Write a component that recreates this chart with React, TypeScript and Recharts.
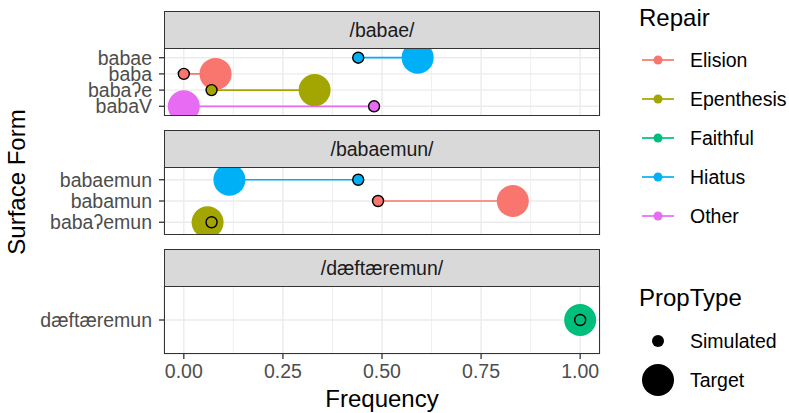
import { ScatterChart, Scatter, XAxis, YAxis, CartesianGrid, ReferenceLine } from 'recharts';

// facets (underlying forms)
const facetTitles = ['/babae/', '/babaemun/', '/dæftæremun/'];

// surface forms per facet, top to bottom
const forms1 = ['babae', 'baba', 'babaʔe', 'babaV'];
const forms2 = ['babaemun', 'babamun', 'babaʔemun'];
const forms3 = ['dæftæremun'];

const repair1 = ['Hiatus', 'Elision', 'Epenthesis', 'Other'];
const repair2 = ['Hiatus', 'Elision', 'Epenthesis'];
const repair3 = ['Faithful'];

const target1 = [0.59, 0.08, 0.33, 0.0];
const simulated1 = [0.44, 0.0, 0.07, 0.48];
const target2 = [0.115, 0.83, 0.06];
const simulated2 = [0.44, 0.49, 0.07];
const target3 = [1.0];
const simulated3 = [1.0];

const repairNames = ['Elision', 'Epenthesis', 'Faithful', 'Hiatus', 'Other'];
const repairColors = ['#F8766D', '#A3A500', '#00BF7D', '#00B0F6', '#E76BF3'];
const propTypes = ['Simulated', 'Target'];

const majorTicks = [0, 0.25, 0.5, 0.75, 1];
const minorTicks = [0.125, 0.375, 0.625, 0.875];

const FONT = '"Liberation Sans", Arial, sans-serif';
const TICK_FS = 19.5;
const TITLE_FS = 24;
const colorOf = (r: string) => repairColors[repairNames.indexOf(r)];

const facets = [
  { title: facetTitles[0], forms: forms1, repair: repair1, target: target1, sim: simulated1, top: 11 },
  { title: facetTitles[1], forms: forms2, repair: repair2, target: target2, sim: simulated2, top: 130 },
  { title: facetTitles[2], forms: forms3, repair: repair3, target: target3, sim: simulated3, top: 249 },
];

const STRIP_H = 37;
const PLOT_H = 68;
const PLOT_L = 164;
const PLOT_W = 436;

const TargetDot = (props: any) => {
  const { cx, cy, payload } = props;
  return <circle cx={cx} cy={cy} r={16} fill={payload.color} />;
};

const SimDot = (props: any) => {
  const { cx, cy, payload } = props;
  return <circle cx={cx} cy={cy} r={5.5} fill={payload.color} stroke="#000" strokeWidth={1.4} />;
};

const NoDot = () => <g />;

function Facet({ f, last }: { f: any; last: boolean }) {
  const n = f.forms.length;
  const rows = f.forms.map((form: string, i: number) => ({
    y: i,
    form,
    color: colorOf(f.repair[i]),
    target: f.target[i],
    sim: f.sim[i],
  }));
  const targets = rows.map((r: any) => ({ x: r.target, y: r.y, color: r.color }));
  const sims = rows.map((r: any) => ({ x: r.sim, y: r.y, color: r.color }));
  const ticks = rows.map((r: any) => r.y);
  const plotTop = f.top + STRIP_H;

  return (
    <>
      <div
        style={{
          position: 'absolute',
          left: PLOT_L,
          top: f.top,
          width: PLOT_W,
          height: STRIP_H,
          boxSizing: 'border-box',
          background: '#D9D9D9',
          border: '1.3px solid #333333',
          borderBottom: 'none',
          display: 'flex',
          alignItems: 'center',
          justifyContent: 'center',
          fontSize: TICK_FS,
          color: '#1A1A1A',
        }}
      >
        {f.title}
      </div>
      <div style={{ position: 'absolute', left: 0, top: plotTop }}>
        <ScatterChart
          width={PLOT_L + PLOT_W + 12}
          height={PLOT_H + (last ? 36 : 0)}
          margin={{ top: 0, right: 12, bottom: 0, left: 0 }}
        >
          <CartesianGrid stroke="#EBEBEB" strokeWidth={1.4} />
          {minorTicks.map((v) => (
            <ReferenceLine key={v} x={v} stroke="#EBEBEB" strokeWidth={0.8} />
          ))}
          <XAxis
            type="number"
            dataKey="x"
            domain={[-0.05, 1.05]}
            ticks={majorTicks}
            hide={!last}
            height={last ? 36 : 0}
            tickFormatter={(v: number) => v.toFixed(2)}
            axisLine={false}
            tickSize={5}
            tickMargin={5}
            tickLine={{ stroke: '#333333', strokeWidth: 1.3 }}
            tick={{ fill: '#4D4D4D', fontSize: TICK_FS, fontFamily: FONT }}
          />
          <YAxis
            type="number"
            dataKey="y"
            domain={[-0.6, n - 1 + 0.6]}
            reversed
            ticks={ticks}
            interval={0}
            width={PLOT_L}
            tickFormatter={(v: number) => f.forms[v]}
            axisLine={false}
            tickSize={5}
            tickMargin={7}
            tickLine={{ stroke: '#333333', strokeWidth: 1.3 }}
            tick={{ fill: '#4D4D4D', fontSize: TICK_FS, fontFamily: FONT }}
          />
          {rows.map((r: any) => (
            <Scatter
              key={'seg' + r.y}
              data={[
                { x: r.sim, y: r.y },
                { x: r.target, y: r.y },
              ]}
              line={{ stroke: r.color, strokeWidth: 1.7 }}
              lineType="joint"
              shape={NoDot}
              isAnimationActive={false}
            />
          ))}
          <Scatter data={targets} shape={TargetDot} isAnimationActive={false} />
          <Scatter data={sims} shape={SimDot} isAnimationActive={false} />
        </ScatterChart>
      </div>
      <div
        style={{
          position: 'absolute',
          left: PLOT_L,
          top: plotTop,
          width: PLOT_W,
          height: PLOT_H,
          boxSizing: 'border-box',
          border: '1.3px solid #333333',
          pointerEvents: 'none',
        }}
      />
    </>
  );
}

export default function App() {
  return (
    <div
      style={{
        position: 'absolute',
        left: 0,
        top: 0,
        width: 789,
        height: 413,
        background: '#fff',
        fontFamily: FONT,
        overflow: 'hidden',
      }}
    >
      {facets.map((f, i) => (
        <Facet key={f.title} f={f} last={i === facets.length - 1} />
      ))}

      <div
        style={{
          position: 'absolute',
          left: 17,
          top: 182,
          transform: 'translate(-50%, -50%) rotate(-90deg)',
          fontSize: TITLE_FS,
          whiteSpace: 'nowrap',
          color: '#000',
        }}
      >
        Surface Form
      </div>
      <div
        style={{
          position: 'absolute',
          left: PLOT_L + PLOT_W / 2,
          top: 399,
          transform: 'translate(-50%, -50%)',
          fontSize: TITLE_FS,
          color: '#000',
        }}
      >
        Frequency
      </div>

      {/* legends */}
      <div style={{ position: 'absolute', left: 639, top: 4, fontSize: TITLE_FS, color: '#000' }}>Repair</div>
      {repairNames.map((name, i) => (
        <div key={name} style={{ position: 'absolute', left: 640, top: 60 + i * 39 - 12, height: 24, display: 'flex', alignItems: 'center' }}>
          <svg width={36} height={24}>
            <line x1={2} y1={12} x2={34} y2={12} stroke={repairColors[i]} strokeWidth={1.7} />
            <circle cx={18} cy={12} r={4.5} fill={repairColors[i]} />
          </svg>
          <span style={{ marginLeft: 14, fontSize: TICK_FS, color: '#000' }}>{name}</span>
        </div>
      ))}
      <div style={{ position: 'absolute', left: 639, top: 284, fontSize: TITLE_FS, color: '#000' }}>PropType</div>
      {propTypes.map((name, i) => (
        <div key={name} style={{ position: 'absolute', left: 640, top: 341 + i * 39 - 18, height: 36, display: 'flex', alignItems: 'center' }}>
          <svg width={36} height={36}>
            <circle cx={18} cy={18} r={i === 0 ? 6 : 16} fill="#000" />
          </svg>
          <span style={{ marginLeft: 14, fontSize: TICK_FS, color: '#000' }}>{name}</span>
        </div>
      ))}
    </div>
  );
}
